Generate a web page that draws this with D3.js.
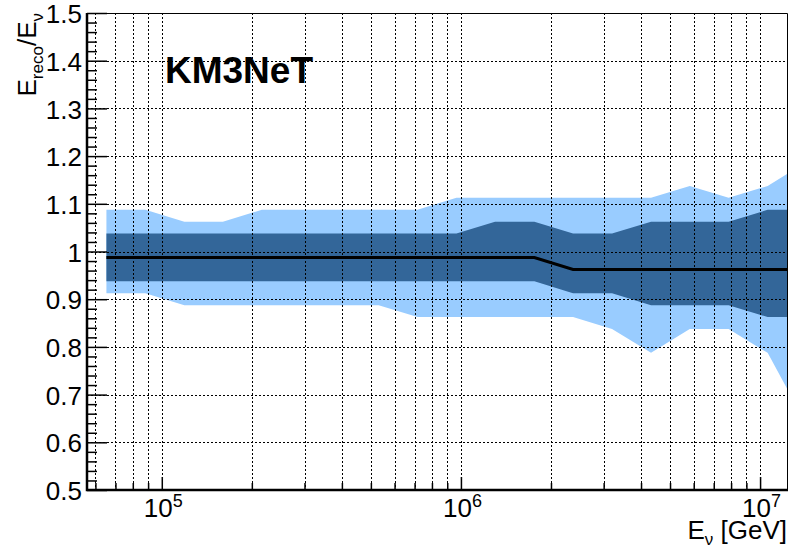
<!DOCTYPE html>
<html>
<head>
<meta charset="utf-8">
<script src="https://cdn.jsdelivr.net/npm/d3@7"></script>
<style>
  html, body { margin: 0; padding: 0; background: #fff; }
  svg { display: block; font-family: "Liberation Sans", Arial, Helvetica, sans-serif; }
</style>
</head>
<body>
<svg id="chart" width="796" height="550"></svg>
<script>
// ---- data ----
const energies = [6.53e4, 8.81e4, 1.19e5, 1.60e5, 2.16e5, 2.92e5, 3.94e5, 5.31e5, 7.16e5, 9.66e5,
                  1.30e6, 1.76e6, 2.37e6, 3.20e6, 4.32e6, 5.82e6, 7.85e6, 1.06e7, 1.43e7];
const median = [0.9875, 0.9875, 0.9875, 0.9875, 0.9875, 0.9875, 0.9875, 0.9875, 0.9875, 0.9875,
                0.9875, 0.9875, 0.9625, 0.9625, 0.9625, 0.9625, 0.9625, 0.9625, 0.9625];
const band68Low = [0.9375, 0.9375, 0.9375, 0.9375, 0.9375, 0.9375, 0.9375, 0.9375, 0.9375, 0.9375,
                   0.9375, 0.9375, 0.9125, 0.9125, 0.8875, 0.8875, 0.8875, 0.8625, 0.8625];
const band68High = [1.0375, 1.0375, 1.0375, 1.0375, 1.0375, 1.0375, 1.0375, 1.0375, 1.0375, 1.0375,
                    1.0625, 1.0625, 1.0375, 1.0375, 1.0625, 1.0625, 1.0625, 1.0875, 1.0875];
const band95Low = [0.9125, 0.9125, 0.8875, 0.8875, 0.8875, 0.8875, 0.8875, 0.8875, 0.8625, 0.8625,
                   0.8625, 0.8625, 0.8625, 0.8375, 0.7875, 0.8375, 0.8375, 0.7875, 0.6375];
const band95High = [1.0875, 1.0875, 1.0625, 1.0625, 1.0875, 1.0875, 1.0875, 1.0875, 1.0875, 1.1125,
                    1.1125, 1.1125, 1.1125, 1.1125, 1.1125, 1.1375, 1.1125, 1.1375, 1.1875];

const yMajor = [0.5, 0.6, 0.7, 0.8, 0.9, 1.0, 1.1, 1.2, 1.3, 1.4, 1.5];
const yLabels = ["0.5", "0.6", "0.7", "0.8", "0.9", "1", "1.1", "1.2", "1.3", "1.4", "1.5"];
const xMajor = [1e5, 1e6, 1e7];
const xLabelExp = ["5", "6", "7"];
const xMinor = [6e4, 7e4, 8e4, 9e4, 2e5, 3e5, 4e5, 5e5, 6e5, 7e5, 8e5, 9e5,
                2e6, 3e6, 4e6, 5e6, 6e6, 7e6, 8e6, 9e6];
const xDomain = [Math.pow(10, 4.75), Math.pow(10, 7.09)];
const yDomain = [0.5, 1.5];

// ---- layout ----
const L = 87, R = 787, T = 13, B = 490;
const svg = d3.select("#chart");

const x = d3.scaleLog().domain(xDomain).range([L, R]);
const y = d3.scaleLinear().domain(yDomain).range([B, T]);

const rows = energies.map((e, i) => ({
  e, med: median[i], lo68: band68Low[i], hi68: band68High[i], lo95: band95Low[i], hi95: band95High[i]
}));

svg.append("defs").append("clipPath").attr("id", "frame")
  .append("rect").attr("x", L).attr("y", T).attr("width", R - L).attr("height", B - T);

const plot = svg.append("g").attr("clip-path", "url(#frame)");

plot.append("path").datum(rows)
  .attr("fill", "#99ccff")
  .attr("d", d3.area().x(d => x(d.e)).y0(d => y(d.lo95)).y1(d => y(d.hi95)));

plot.append("path").datum(rows)
  .attr("fill", "#336699")
  .attr("d", d3.area().x(d => x(d.e)).y0(d => y(d.lo68)).y1(d => y(d.hi68)));

// grid (drawn above the bands)
const grid = svg.append("g").attr("stroke", "#000").attr("stroke-width", 1)
  .attr("stroke-dasharray", "2,2").attr("fill", "none");
grid.selectAll("line.gx").data(xMajor.concat(xMinor)).join("line")
  .attr("x1", d => Math.round(x(d)) + 0.5).attr("x2", d => Math.round(x(d)) + 0.5)
  .attr("y1", T).attr("y2", B);
grid.selectAll("line.gy").data(yMajor).join("line")
  .attr("x1", L).attr("x2", R)
  .attr("y1", d => Math.round(y(d)) + 0.5).attr("y2", d => Math.round(y(d)) + 0.5);

// median line
plot.append("path").datum(rows)
  .attr("fill", "none").attr("stroke", "#000").attr("stroke-width", 3)
  .attr("d", d3.line().x(d => x(d.e)).y(d => y(d.med)));

// frame (top & right thin)
svg.append("path")
  .attr("d", `M${L},${T + 0.5}H${R + 0.5}V${B}`)
  .attr("fill", "none").attr("stroke", "#000").attr("stroke-width", 1);

// ---- y axis ----
const yMinor = d3.range(0.52, 1.5, 0.02).filter(v => Math.abs(v * 10 - Math.round(v * 10)) > 1e-6);
const yMinorAxis = svg.append("g").attr("transform", `translate(${L},0)`)
  .call(d3.axisLeft(y).tickValues(yMinor).tickSize(-10).tickFormat(""));
yMinorAxis.select(".domain").remove();

const yAxis = svg.append("g").attr("transform", `translate(${L},0)`)
  .call(d3.axisLeft(y).tickValues(yMajor).tickSize(-20).tickPadding(5)
    .tickFormat((d, i) => yLabels[i]));
yAxis.select(".domain").remove();
yAxis.selectAll("text").attr("font-size", 26).attr("font-family", "Liberation Sans, Arial, sans-serif")
  .attr("dy", "0.37em").attr("fill", "#000");
svg.selectAll(".tick line").attr("stroke", "#000").attr("stroke-width", 1.5);

// ---- x axis ----
const xMinorAxis = svg.append("g").attr("transform", `translate(0,${B})`)
  .call(d3.axisBottom(x).tickValues(xMinor).tickSize(-7).tickFormat(""));
xMinorAxis.select(".domain").remove();
xMinorAxis.selectAll(".tick line").attr("stroke", "#000").attr("stroke-width", 1.5);

const xAxis = svg.append("g").attr("transform", `translate(0,${B})`)
  .call(d3.axisBottom(x).tickValues(xMajor).tickSize(-13).tickFormat(""));
xAxis.select(".domain").remove();
xAxis.selectAll(".tick line").attr("stroke", "#000").attr("stroke-width", 1.5);
xAxis.selectAll(".tick").each(function (d, i) {
  const t = d3.select(this).append("text")
    .attr("x", 1).attr("y", 27).attr("text-anchor", "middle")
    .attr("fill", "#000").attr("font-size", 26);
  t.append("tspan").text("10");
  t.append("tspan").attr("dy", -10).attr("font-size", 18).text(xLabelExp[i]);
});

// main axis lines (thick)
svg.append("path")
  .attr("d", `M${L},${T}V${B}H${R + 1}`)
  .attr("fill", "none").attr("stroke", "#000").attr("stroke-width", 2.5);

// ---- titles ----
const xt = svg.append("text").attr("x", R).attr("y", 539).attr("text-anchor", "end")
  .attr("font-size", 26).attr("fill", "#000");
xt.append("tspan").text("E");
xt.append("tspan").attr("font-size", 17).attr("dy", 6).text("ν");
xt.append("tspan").attr("dy", -6).text(" [GeV]");

const yt = svg.append("text").attr("transform", `translate(36,${T}) rotate(-90)`)
  .attr("text-anchor", "end").attr("font-size", 26).attr("fill", "#000");
yt.append("tspan").text("E");
yt.append("tspan").attr("font-size", 17).attr("dy", 7).text("reco");
yt.append("tspan").attr("dy", -7).text("/E");
yt.append("tspan").attr("font-size", 17).attr("dy", 7).text("ν");

svg.append("text").attr("x", 165).attr("y", 83)
  .attr("font-size", 37).attr("font-weight", "bold").attr("fill", "#000")
  .text("KM3NeT");
</script>
</body>
</html>
